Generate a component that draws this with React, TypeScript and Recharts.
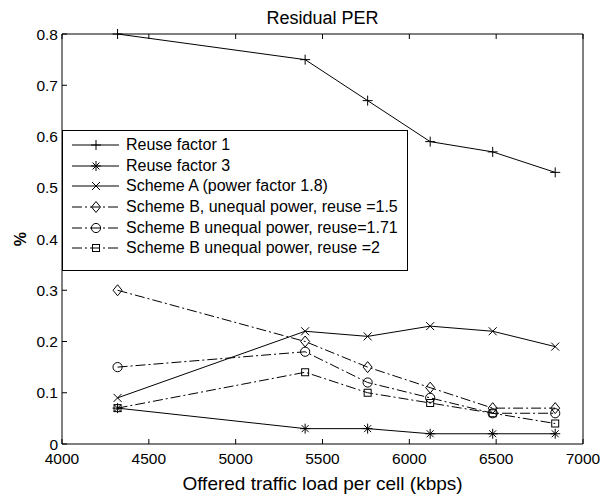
import React from 'react'
import { LineChart, Line, XAxis, YAxis, Legend, Label } from 'recharts'

// offered load (kbps) at which each scheme was simulated
const loads = [4320, 5400, 5760, 6120, 6480, 6840]

// residual PER (%) per series
const reuse1 = [0.8, 0.75, 0.67, 0.59, 0.57, 0.53]
const reuse3 = [0.07, 0.03, 0.03, 0.02, 0.02, 0.02]
const schemeA = [0.09, 0.22, 0.21, 0.23, 0.22, 0.19]
const schemeB15 = [0.3, 0.2, 0.15, 0.11, 0.07, 0.07]
const schemeB171 = [0.15, 0.18, 0.12, 0.09, 0.06, 0.06]
const schemeB2 = [0.07, 0.14, 0.1, 0.08, 0.06, 0.04]

const xTicks = [4000, 4500, 5000, 5500, 6000, 6500, 7000]
const yTicks = [0, 0.1, 0.2, 0.3, 0.4, 0.5, 0.6, 0.7, 0.8]
const yTickLabels = ['0', '0.1', '0.2', '0.3', '0.4', '0.5', '0.6', '0.7', '0.8']

const DASH_DOT = '10 3 2 3'

const series = [
  { key: 'r1', name: 'Reuse factor 1', values: reuse1, marker: 'plus', dash: undefined },
  { key: 'r3', name: 'Reuse factor 3', values: reuse3, marker: 'star', dash: undefined },
  { key: 'sa', name: 'Scheme A (power factor 1.8)', values: schemeA, marker: 'cross', dash: undefined },
  { key: 'b15', name: 'Scheme B, unequal power, reuse =1.5', values: schemeB15, marker: 'diamond', dash: DASH_DOT },
  { key: 'b171', name: 'Scheme B unequal power, reuse=1.71', values: schemeB171, marker: 'circle', dash: DASH_DOT },
  { key: 'b2', name: 'Scheme B unequal power, reuse =2', values: schemeB2, marker: 'square', dash: DASH_DOT },
]

const data = loads.map((load, i) => {
  const row: Record<string, number> = { load }
  series.forEach((s) => { row[s.key] = s.values[i] })
  return row
})

const FONT = '"Liberation Sans", Arial, Helvetica, sans-serif'

function Marker({ kind, cx, cy }: { kind: string; cx: number; cy: number }) {
  const st = { stroke: '#000', strokeWidth: 1, fill: 'none' }
  switch (kind) {
    case 'plus':
      return <path d={`M${cx - 5},${cy}H${cx + 5}M${cx},${cy - 5}V${cy + 5}`} {...st} />
    case 'star':
      return (
        <path
          d={`M${cx - 5},${cy}H${cx + 5}M${cx},${cy - 5}V${cy + 5}M${cx - 3.5},${cy - 3.5}L${cx + 3.5},${cy + 3.5}M${cx - 3.5},${cy + 3.5}L${cx + 3.5},${cy - 3.5}`}
          {...st}
        />
      )
    case 'cross':
      return <path d={`M${cx - 4},${cy - 4}L${cx + 4},${cy + 4}M${cx - 4},${cy + 4}L${cx + 4},${cy - 4}`} {...st} />
    case 'diamond':
      return <path d={`M${cx},${cy - 5.5}L${cx + 4.5},${cy}L${cx},${cy + 5.5}L${cx - 4.5},${cy}Z`} {...st} />
    case 'circle':
      return <circle cx={cx} cy={cy} r={4.6} {...st} />
    case 'square':
      return <rect x={cx - 3.5} y={cy - 3.5} width={7} height={7} {...st} />
    default:
      return null
  }
}

const renderLegend = () => (
  <div
    style={{
      border: '1px solid #000',
      background: '#fff',
      padding: '4px 0',
      boxSizing: 'border-box',
      height: 141,
      fontFamily: FONT,
      fontSize: 16,
      color: '#000',
    }}
  >
    {series.map((s) => (
      <div key={s.key} style={{ display: 'flex', alignItems: 'center', height: 20.6, whiteSpace: 'nowrap' }}>
        <svg width={63} height={20} style={{ flex: 'none' }}>
          <line x1={9} x2={56} y1={10} y2={10} stroke="#000" strokeWidth={1} strokeDasharray={s.dash} />
          <Marker kind={s.marker} cx={33} cy={10} />
        </svg>
        <span>{s.name}</span>
      </div>
    ))}
  </div>
)

export default function App() {
  return (
    <div style={{ position: 'absolute', left: 0, top: 0, width: 601, height: 494, background: '#fff', fontFamily: FONT }}>
      <LineChart width={601} height={494} data={data} margin={{ top: 33, right: 17, bottom: 0, left: 0 }}>
        <XAxis
          dataKey="load"
          type="number"
          domain={[4000, 7000]}
          ticks={xTicks}
          height={50}
          stroke="#000"
          tickSize={-5}
          tickMargin={14}
          tick={{ fill: '#000', fontSize: 15.5 }}
          interval={0}
        >
          <Label
            value="Offered traffic load per cell (kbps)"
            position="insideBottom"
            offset={4}
            style={{ fill: '#000', fontSize: 19 }}
          />
        </XAxis>
        <XAxis
          xAxisId="top"
          orientation="top"
          dataKey="load"
          type="number"
          domain={[4000, 7000]}
          ticks={xTicks}
          height={1}
          stroke="#000"
          tickSize={-5}
          tickFormatter={() => ''}
          interval={0}
        >
          <Label value="Residual PER" position="top" offset={9.5} style={{ fill: '#000', fontSize: 18 }} />
        </XAxis>
        <YAxis
          type="number"
          domain={[0, 0.8]}
          ticks={yTicks}
          width={62}
          stroke="#000"
          tickSize={-5}
          tickMargin={9}
          tick={{ fill: '#000', fontSize: 15.5 }}
          tickFormatter={(v: number) => yTickLabels[yTicks.indexOf(v)] ?? String(v)}
          interval={0}
        >
          <Label
            value="%"
            angle={-90}
            position="insideLeft"
            offset={20}
            style={{ fill: '#000', fontSize: 16, fontWeight: 'bold', textAnchor: 'middle' }}
          />
        </YAxis>
        <YAxis
          yAxisId="right"
          orientation="right"
          type="number"
          domain={[0, 0.8]}
          ticks={yTicks}
          width={1}
          stroke="#000"
          tickSize={-5}
          tickFormatter={() => ''}
          interval={0}
        />
        {series.map((s) => (
          <Line
            key={s.key}
            dataKey={s.key}
            name={s.name}
            stroke="#000"
            strokeWidth={1}
            strokeDasharray={s.dash}
            isAnimationActive={false}
            dot={(p: any) => (
              <g key={`${s.key}-${p.index}`}>
                <Marker kind={s.marker} cx={p.cx} cy={p.cy} />
              </g>
            )}
            activeDot={false}
          />
        ))}
        <Legend
          layout="vertical"
          align="center"
          verticalAlign="middle"
          content={renderLegend}
          wrapperStyle={{ left: 62, top: 130, right: 'auto', bottom: 'auto', width: 346, height: 141 }}
        />
      </LineChart>
    </div>
  )
}
